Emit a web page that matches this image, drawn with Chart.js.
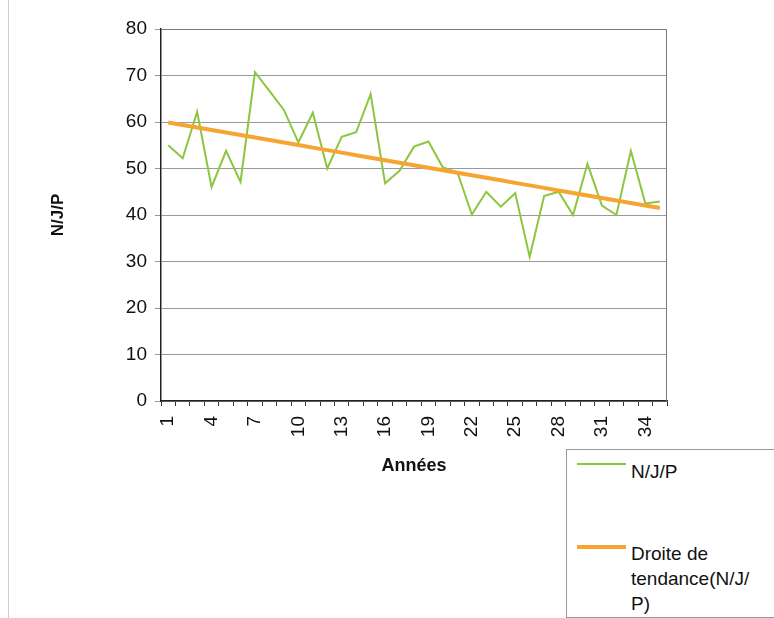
<!DOCTYPE html>
<html>
<head>
<meta charset="utf-8">
<script src="https://cdn.jsdelivr.net/npm/chart.js@4.4.0/dist/chart.umd.min.js"></script>
<style>
  html, body { margin: 0; padding: 0; background: #fff; }
  #wrap { position: relative; width: 774px; height: 618px; overflow: hidden; font-family: "Liberation Sans", Arial, sans-serif; }
  #frame { position: absolute; left: 8px; top: -2px; width: 800px; height: 640px; border-left: 1px solid #cfcfcf; }
  canvas { position: absolute; left: 0; top: 0; }
  #legend { position: absolute; left: 566px; top: 449px; width: 230px; height: 167px; border: 1px solid #9a9a9a; background: #fff; }
  .swatch { position: absolute; left: 10px; width: 49px; }
  .label { position: absolute; left: 64px; width: 124px; font-size: 19px; line-height: 25px; color: #111; overflow-wrap: anywhere; }
</style>
</head>
<body>
<div id="wrap">
  <div id="frame"></div>
  <canvas id="chart" width="774" height="618"></canvas>
  <div id="legend"></div>
</div>
<script>
// Années (categories)
const years = [1, 2, 3, 4, 5, 6, 7, 8, 9, 10, 11, 12, 13, 14, 15, 16, 17, 18,
               19, 20, 21, 22, 23, 24, 25, 26, 27, 28, 29, 30, 31, 32, 33, 34, 35];

// N/J/P values
const njp = [55, 52.2, 62.2, 46, 53.8, 47.1, 70.7, 66.7, 62.6, 55.6,
             62, 50, 56.8, 57.8, 66, 46.8, 49.5, 54.7, 55.8, 50.2,
             49.2, 40.1, 45, 41.8, 44.7, 31, 44.1, 45, 40, 51,
             42, 40, 53.8, 42.5, 42.9];

const yTicks = [0, 10, 20, 30, 40, 50, 60, 70, 80];

// least squares trend line (Excel "Droite de tendance")
function linearTrend(xs, ys) {
    const n = xs.length;
    const mx = xs.reduce((a, b) => a + b, 0) / n;
    const my = ys.reduce((a, b) => a + b, 0) / n;
    let sxy = 0, sxx = 0;
    for (let i = 0; i < n; i++) {
        sxy += (xs[i] - mx) * (ys[i] - my);
        sxx += (xs[i] - mx) * (xs[i] - mx);
    }
    const slope = sxy / sxx;
    return xs.map(x => my + slope * (x - mx));
}
const trend = linearTrend(years, njp);

const plotFrame = {
    id: 'plotFrame',
    beforeDatasetsDraw(chart) {
        const { ctx, chartArea: a } = chart;
        ctx.save();
        ctx.strokeStyle = '#7a7a7a';
        ctx.lineWidth = 1;
        ctx.beginPath();
        ctx.moveTo(a.left, a.top + 0.5);
        ctx.lineTo(a.right - 0.5, a.top + 0.5);
        ctx.lineTo(a.right - 0.5, a.bottom);
        ctx.stroke();
        ctx.restore();
    }
};

const font = "'Liberation Sans', Arial, sans-serif";

const chart = new Chart(document.getElementById('chart'), {
    type: 'line',
    data: {
        labels: years.map(String),
        datasets: [
            {
                label: 'N/J/P',
                data: njp,
                borderColor: '#8cc63f',
                borderWidth: 2,
                pointRadius: 0,
                tension: 0,
                order: 2
            },
            {
                label: 'Droite de tendance(N/J/P)',
                data: trend,
                borderColor: '#f6a532',
                borderWidth: 4,
                pointRadius: 0,
                tension: 0,
                order: 1
            }
        ]
    },
    options: {
        responsive: false,
        animation: false,
        layout: { padding: { left: 0, top: 29, right: 107, bottom: 137 } },
        plugins: { legend: { display: false }, tooltip: { enabled: false } },
        scales: {
            x: {
                offset: true,
                grid: { offset: true, drawOnChartArea: false, drawTicks: true, tickLength: 5, color: '#333' },
                border: { color: '#222', width: 1.5 },
                ticks: {
                    autoSkip: false, minRotation: 90, maxRotation: 90, padding: 10,
                    color: '#111', font: { family: font, size: 19 },
                    callback: (v, i) => (i % 3 === 0 ? String(years[i]) : '')
                },
                title: {
                    display: true, text: 'Années', color: '#111',
                    font: { family: font, size: 18, weight: 'bold' },
                    padding: { top: 4, bottom: 4 }
                },
                afterFit: s => { s.height = 80; }
            },
            y: {
                min: yTicks[0],
                max: yTicks[yTicks.length - 1],
                afterBuildTicks: s => { s.ticks = yTicks.map(v => ({ value: v })); },
                ticks: { padding: 8, color: '#111', font: { family: font, size: 19 } },
                grid: { color: '#9a9a9a', tickLength: 6 },
                border: { color: '#222', width: 1.5 },
                title: {
                    display: true, text: 'N/J/P', color: '#111',
                    font: { family: font, size: 17, weight: 'bold' },
                    padding: { top: 48, bottom: 0 }
                },
                afterFit: s => { s.width = 161; }
            }
        }
    },
    plugins: [plotFrame]
});

// legend box like Excel's, built from the datasets
const legendPos = [{ line: 14, text: 9 }, { line: 97, text: 91 }];
document.getElementById('legend').innerHTML = chart.data.datasets.map((ds, i) => `
    <div class="swatch" style="top:${legendPos[i].line - ds.borderWidth / 2}px; height:${ds.borderWidth}px; background:${ds.borderColor};"></div>
    <div class="label" style="top:${legendPos[i].text}px;">${ds.label}</div>
`).join('');
</script>
</body>
</html>
